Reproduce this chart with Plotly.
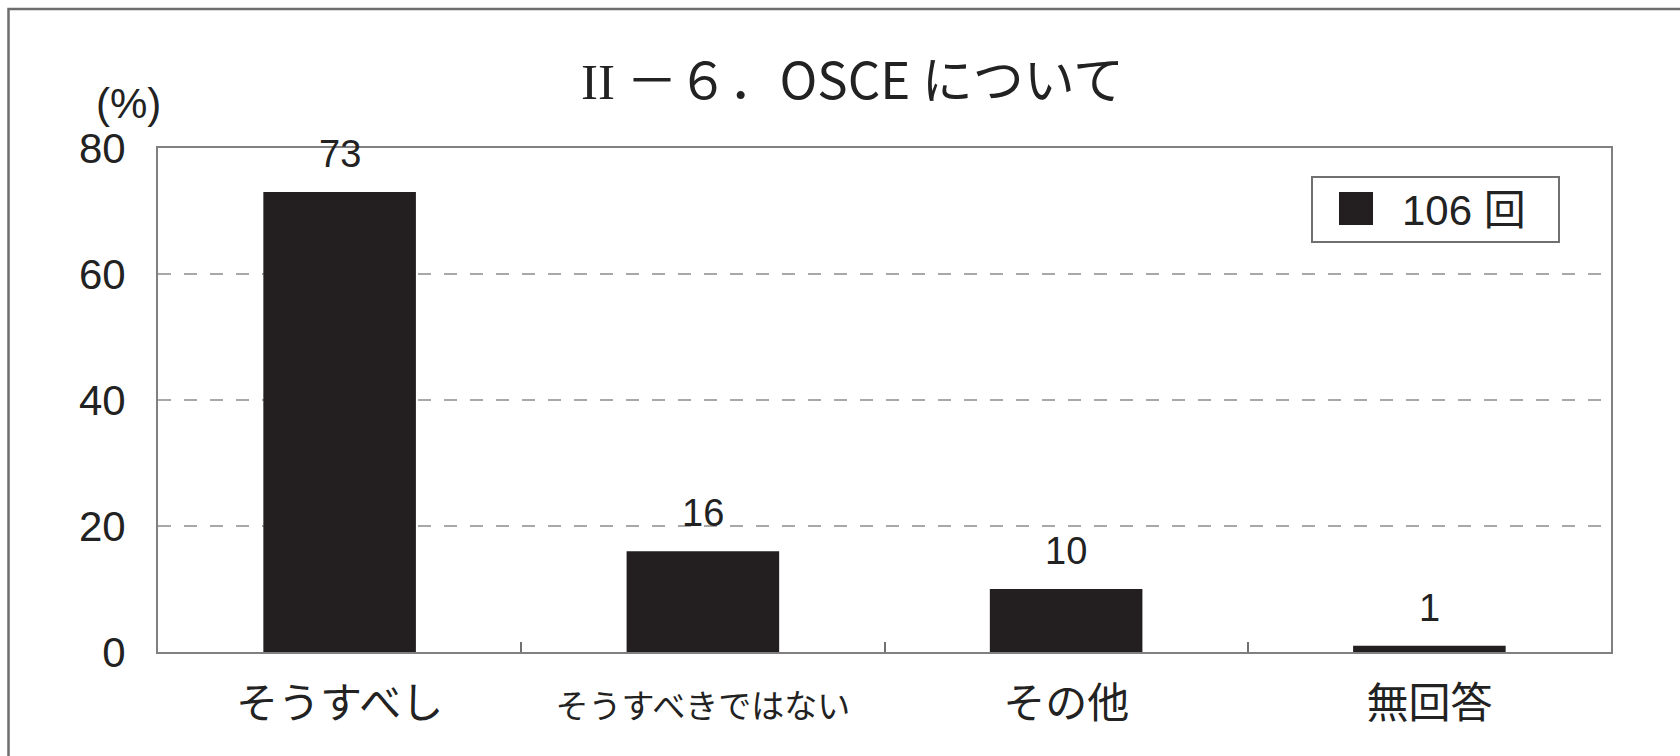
import plotly.graph_objects as go

# Survey responses (percent) for question II-6
categories = ["そうすべし", "そうすべきではない", "その他", "無回答"]
tick_labels = [
    "そうすべし",
    '<span style="font-size:33px">そうすべきではない</span>',
    "その他",
    "無回答",
]
values = [73, 16, 10, 1]
series_name = "106 回"
y_ticks = [0, 20, 40, 60, 80]

W, H = 1680, 756
L, R, T, B = 158, 69, 148, 104
plot_w = W - L - R
plot_h = H - T - B


def px_x(px):
    return (px - L) / plot_w


def px_y(py):
    return (H - B - py) / plot_h


BAR_COLOR = "#231f20"
TEXT_COLOR = "#222222"
SANS = "Liberation Sans, Noto Sans CJK JP, sans-serif"
CJK = "Noto Sans CJK JP, sans-serif"

fig = go.Figure()
fig.add_trace(
    go.Bar(
        x=categories,
        y=values,
        name=series_name,
        marker=dict(color=BAR_COLOR, line=dict(width=0)),
        width=0.42,
        showlegend=False,
    )
)

# value labels above each bar
for c, v in zip(categories, values):
    fig.add_annotation(
        x=c, y=v, xref="x", yref="y", text=str(v), showarrow=False,
        yanchor="middle", yshift=38,
        font=dict(family=SANS, size=38, color=TEXT_COLOR),
    )

# title
fig.add_annotation(
    x=px_x(852), y=px_y(77), xref="paper", yref="paper",
    text='<span style="font-family:\'Liberation Serif\'">II</span> －６．OSCE について',
    showarrow=False, xanchor="center", yanchor="middle",
    font=dict(family=CJK, size=51, color=TEXT_COLOR),
)

# y-axis unit
fig.add_annotation(
    x=px_x(128), y=px_y(103), xref="paper", yref="paper", text="(%)",
    showarrow=False, xanchor="center", yanchor="middle",
    font=dict(family=SANS, size=42, color=TEXT_COLOR),
)

# legend box
fig.add_shape(
    type="rect", xref="paper", yref="paper",
    x0=px_x(1312), x1=px_x(1559), y0=px_y(242), y1=px_y(177),
    line=dict(color="#707070", width=2), fillcolor="white", layer="above",
)
fig.add_shape(
    type="rect", xref="paper", yref="paper",
    x0=px_x(1339), x1=px_x(1373), y0=px_y(225), y1=px_y(192),
    line=dict(width=0), fillcolor=BAR_COLOR, layer="above",
)
fig.add_annotation(
    x=px_x(1400), y=px_y(210), xref="paper", yref="paper", text=series_name,
    showarrow=False, xanchor="left", yanchor="middle",
    font=dict(family=SANS, size=42, color=TEXT_COLOR),
)

# outer frame
fig.add_shape(
    type="rect", xref="paper", yref="paper",
    x0=px_x(8.5), x1=px_x(1700), y0=px_y(800), y1=px_y(9),
    line=dict(color="#6e6e6e", width=2.5), fillcolor="rgba(0,0,0,0)",
    layer="above",
)

fig.update_layout(
    width=W, height=H,
    margin=dict(l=L, r=R, t=T, b=B, pad=0),
    paper_bgcolor="white", plot_bgcolor="white",
    bargap=0.58,
    showlegend=False,
)
fig.update_xaxes(
    tickmode="array", tickvals=categories, ticktext=tick_labels,
    tickson="boundaries", ticks="inside", ticklen=10, tickwidth=1.5,
    tickcolor="#707070",
    showline=True, linecolor="#808080", linewidth=2, mirror=True,
    showgrid=False,
    tickfont=dict(family=CJK, size=42, color=TEXT_COLOR),
    ticklabelstandoff=14,
)
fig.update_yaxes(
    range=[0, 80], tickmode="array", tickvals=y_ticks,
    showline=True, linecolor="#808080", linewidth=2, mirror=True,
    showgrid=True, gridcolor="#a8a8a8", gridwidth=2, griddash="13px,13px",
    zeroline=False, ticks="",
    tickfont=dict(family=SANS, size=42, color=TEXT_COLOR),
    ticklabelstandoff=22,
)

fig.write_html("out.html")
